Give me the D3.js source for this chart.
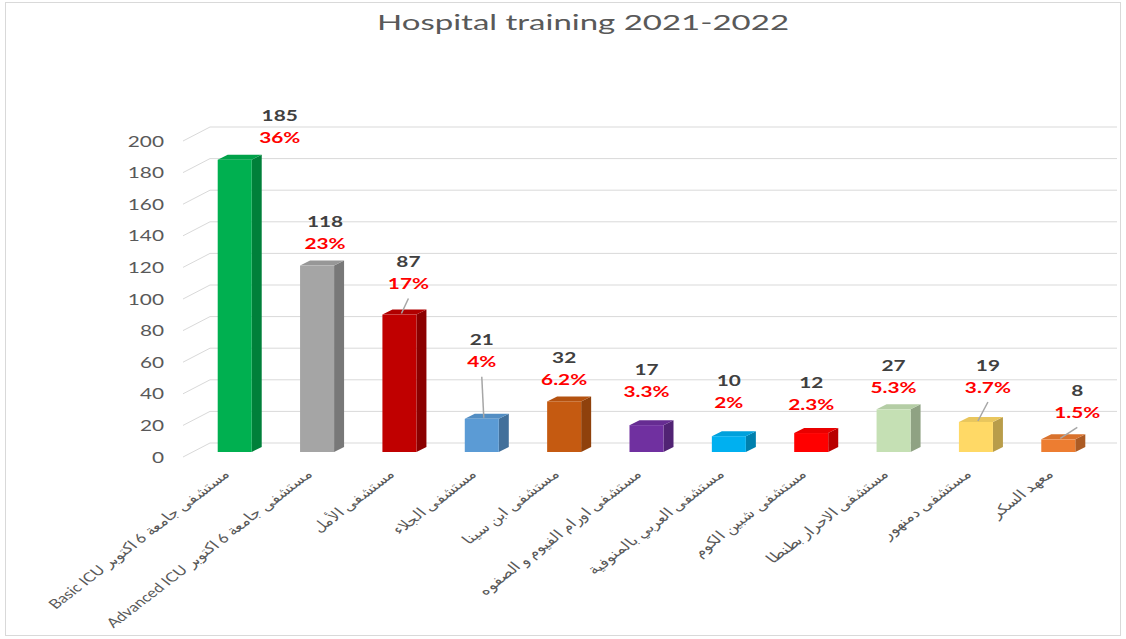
<!DOCTYPE html>
<html>
<head>
<meta charset="utf-8">
<script src="https://cdnjs.cloudflare.com/ajax/libs/d3/7.8.5/d3.min.js"></script>
<style>
  body { margin: 0; background: #fff; }
  text { font-family: Lato, "Open Sans", sans-serif; }
</style>
</head>
<body>
<div id="chart"></div>
<script>
// data
var hospitals = [
    "Basic ICU مستشفى جامعة 6 اكتوبر",
    "Advanced ICU مستشفى جامعة 6 اكتوبر",
    "مستشفى الأمل",
    "مستشفى الجلاء",
    "مستشفى ابن سينا",
    "مستشفى اورام الفيوم و الصفوه",
    "مستشفى العربي بالمنوفية",
    "مستشفى شبين الكوم",
    "مستشفى الاحرار بطنطا",
    "مستشفى دمنهور",
    "معهد السكر"
];
var trainees = [185, 118, 87, 21, 32, 17, 10, 12, 27, 19, 8];
var percents = ["36%", "23%", "17%", "4%", "6.2%", "3.3%", "2%", "2.3%", "5.3%", "3.7%", "1.5%"];
var yTicks = [0, 20, 40, 60, 80, 100, 120, 140, 160, 180, 200];

// styling / layout (not data)
var barColors = ["#00b050", "#a5a5a5", "#c00000", "#5b9bd5", "#c55a11", "#7030a0",
                 "#00b0f0", "#ff0000", "#c5e0b4", "#ffd966", "#ed7d31"];
// label nudges that were dragged by hand in the original: [dx, dy, leader line]
var labelNudge = [[45, 0, 0], [8, 0, 0], [9, -9, 1], [0, -35, 1], [0, 0, 0], [0, -12, 0],
                  [0, -12, 0], [0, -7, 0], [0, 0, 0], [12, -13, 1], [19, -5, 1]];

var svgWidth = 1126, svgHeight = 639;
var sx = 1.3; // the picture is stretched sideways

var svg = d3.select('#chart').append('svg')
    .attr('width', svgWidth).attr('height', svgHeight);

// frame
svg.append('rect')
    .attr('x', 5.5).attr('y', 2.5).attr('width', 1115).attr('height', 633)
    .attr('fill', '#fff').attr('stroke', '#d9d9d9');

// title
svg.append('text')
    .attr('transform', 'translate(583,30) scale(1.5,1)')
    .attr('text-anchor', 'middle')
    .attr('font-size', 22)
    .attr('fill', '#595959')
    .text('Hospital training 2021-2022');

// scales (back wall)
var x = d3.scaleBand()
    .domain(d3.range(hospitals.length))
    .range([210, 1117])
    .paddingInner(0.587)
    .paddingOuter(0.3);

var y = d3.scaleLinear()
    .domain([0, 200])
    .range([443, 127]);

var floor = {dx: -27, dy: 14};  // front edge of the floor
var face = {dx: -17, dy: 9};    // front face of the bars
var depth = {dx: 10, dy: -5};   // bar depth

// grid
var grid = svg.append('g').attr('class', 'grid');
grid.selectAll('line.back').data(yTicks).enter().append('line')
    .attr('class', 'back')
    .attr('x1', 210).attr('x2', 1117)
    .attr('y1', function(d) { return y(d); })
    .attr('y2', function(d) { return y(d); })
    .attr('stroke', '#d9d9d9');
grid.selectAll('line.side').data(yTicks).enter().append('line')
    .attr('class', 'side')
    .attr('x1', 210 + floor.dx).attr('x2', 210)
    .attr('y1', function(d) { return y(d) + floor.dy; })
    .attr('y2', function(d) { return y(d); })
    .attr('stroke', '#d9d9d9');

// y axis labels
svg.append('g').selectAll('text').data(yTicks).enter().append('text')
    .attr('transform', function(d) {
        return 'translate(164,' + (y(d) + floor.dy) + ') scale(' + sx + ',1)';
    })
    .attr('text-anchor', 'end')
    .attr('dy', '0.35em')
    .attr('font-size', 16)
    .attr('fill', '#595959')
    .text(function(d) { return d; });

// bars, one group per category index
function bx0(i) { return x(i) + face.dx; }
function bx1(i) { return x(i) + face.dx + x.bandwidth(); }
function barTop(i) { return y(trainees[i]) + face.dy; }
var base = y(0) + face.dy;

var bars = svg.append('g').selectAll('g.bar')
    .data(d3.range(trainees.length)).enter().append('g').attr('class', 'bar');

// side
bars.append('path')
    .attr('d', function(i) {
        return 'M' + bx1(i) + ',' + barTop(i) +
            'L' + (bx1(i) + depth.dx) + ',' + (barTop(i) + depth.dy) +
            'L' + (bx1(i) + depth.dx) + ',' + (base + depth.dy) +
            'L' + bx1(i) + ',' + base + 'Z';
    })
    .attr('fill', function(i) { return d3.color(barColors[i]).darker(0.9); });

// top
bars.append('path')
    .attr('d', function(i) {
        return 'M' + bx0(i) + ',' + barTop(i) +
            'L' + (bx0(i) + depth.dx) + ',' + (barTop(i) + depth.dy) +
            'L' + (bx1(i) + depth.dx) + ',' + (barTop(i) + depth.dy) +
            'L' + bx1(i) + ',' + barTop(i) + 'Z';
    })
    .attr('fill', function(i) { return d3.color(barColors[i]).darker(0.25); });

// front
bars.append('rect')
    .attr('x', function(i) { return bx0(i); })
    .attr('y', function(i) { return barTop(i); })
    .attr('width', x.bandwidth())
    .attr('height', function(i) { return base - barTop(i); })
    .attr('fill', function(i) { return barColors[i]; });

// leader lines
bars.filter(function(i) { return labelNudge[i][2]; }).append('line')
    .attr('x1', function(i) { return x(i) + labelNudge[i][0]; })
    .attr('y1', function(i) { return barTop(i) - 22 + labelNudge[i][1] + 15; })
    .attr('x2', function(i) { return x(i) + 2; })
    .attr('y2', function(i) { return barTop(i) - 1; })
    .attr('stroke', '#a6a6a6').attr('stroke-width', 1.5);

// value labels
bars.append('text')
    .attr('transform', function(i) {
        return 'translate(' + (x(i) + labelNudge[i][0]) + ',' + (barTop(i) - 44 + labelNudge[i][1]) +
            ') scale(' + sx + ',1)';
    })
    .attr('text-anchor', 'middle').attr('dy', '0.35em')
    .attr('font-size', 16).attr('font-weight', 'bold')
    .attr('fill', '#404040')
    .text(function(i) { return trainees[i]; });

bars.append('text')
    .attr('transform', function(i) {
        return 'translate(' + (x(i) + labelNudge[i][0]) + ',' + (barTop(i) - 22 + labelNudge[i][1]) +
            ') scale(' + sx + ',1)';
    })
    .attr('text-anchor', 'middle').attr('dy', '0.35em')
    .attr('font-size', 16).attr('font-weight', 'bold')
    .attr('fill', '#ff0000')
    .text(function(i) { return percents[i]; });

// category labels
svg.append('g').selectAll('text').data(hospitals).enter().append('text')
    .attr('transform', function(d, i) {
        return 'translate(' + (x(i) - 4) + ',' + 475 + ') scale(' + sx + ',1) rotate(-45)';
    })
    .attr('text-anchor', 'end')
    .attr('font-family', '"DejaVu Sans", sans-serif')
    .attr('font-size', 13)
    .attr('fill', '#595959')
    .text(function(d) { return d; });
</script>
</body>
</html>
